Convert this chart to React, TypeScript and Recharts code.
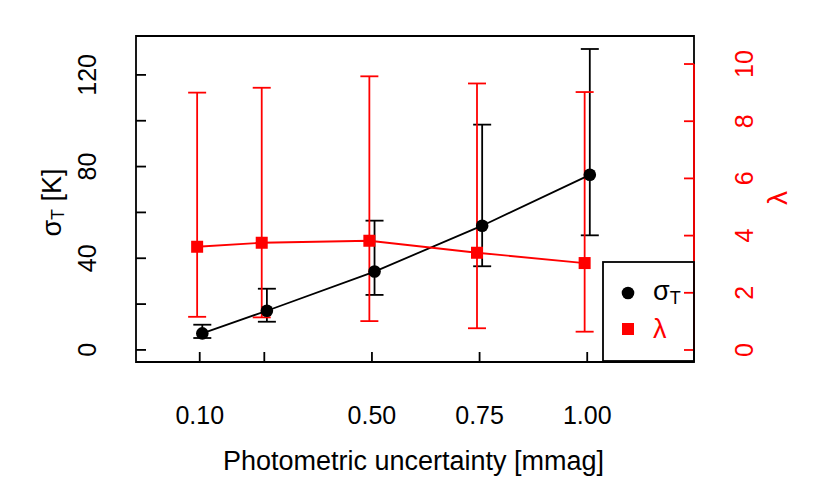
import {
  ComposedChart,
  Scatter,
  ErrorBar,
  XAxis,
  YAxis,
  ReferenceArea,
  ReferenceLine,
  Legend,
  Label,
} from "recharts";

const FONT = "'Liberation Sans', Arial, Helvetica, sans-serif";
const RED = "#ff0000";
const LW = 1.8;

// photometric uncertainty [mmag]
const uncertainty = [0.1, 0.25, 0.5, 0.75, 1.0];

// sigma_T [K] with lower / upper error bar ends
const sigmaT = [7.2, 17.1, 34.2, 54.2, 76.4];
const sigmaLow = [5.2, 12.3, 24.0, 36.5, 50.0];
const sigmaHigh = [11.0, 26.7, 56.4, 98.3, 131.3];

// lambda with lower / upper error bar ends
const lambda = [3.61, 3.75, 3.82, 3.4, 3.04];
const lambdaLow = [1.16, 1.14, 1.01, 0.76, 0.64];
const lambdaHigh = [9.0, 9.17, 9.57, 9.32, 9.02];

const seriesNames = ["σ", "λ"];

const xTicks = [0.1, 0.25, 0.5, 0.75, 1.0];
const xTickLabels = ["0.10", "", "0.50", "0.75", "1.00"];
const sigmaTicks = [0, 20, 40, 60, 80, 100, 120];
const sigmaTickLabels = ["0", "", "40", "", "80", "", "120"];
const lambdaTicks = [0, 2, 4, 6, 8, 10];
const lambdaTickLabels = ["0", "2", "4", "6", "8", "10"];

const xDomain = [-0.048, 1.248];
const sigmaDomain = [-5.27, 136.97];
const lambdaDomain = [-0.42, 10.98];

// the two series are nudged apart a little so the bars don't sit on top of each other
const DODGE = 0.006;

const sigmaData = uncertainty.map((x, i) => ({
  x: x + DODGE,
  y: sigmaT[i],
  err: [sigmaT[i] - sigmaLow[i], sigmaHigh[i] - sigmaT[i]],
}));

const lambdaData = uncertainty.map((x, i) => ({
  x: x - DODGE,
  y: lambda[i],
  err: [lambda[i] - lambdaLow[i], lambdaHigh[i] - lambda[i]],
}));

function XTick({ x, y, payload }: any) {
  const label = xTickLabels[xTicks.indexOf(payload.value)];
  return (
    <g>
      <line x1={x} x2={x} y1={y} y2={y - 10} stroke="#000" strokeWidth={LW} />
      {label ? (
        <text x={x} y={y + 61.5} textAnchor="middle" fontSize={25} fontFamily={FONT} fill="#000">
          {label}
        </text>
      ) : null}
    </g>
  );
}

function LeftTick({ x, y, payload }: any) {
  const label = sigmaTickLabels[sigmaTicks.indexOf(payload.value)];
  const tx = x - 39.5;
  return (
    <g>
      <line x1={x} x2={x + 10} y1={y} y2={y} stroke="#000" strokeWidth={LW} />
      {label ? (
        <text
          x={tx}
          y={y}
          transform={`rotate(-90, ${tx}, ${y})`}
          textAnchor="middle"
          fontSize={25}
          fontFamily={FONT}
          fill="#000"
        >
          {label}
        </text>
      ) : null}
    </g>
  );
}

function RightTick({ x, y, payload }: any) {
  const label = lambdaTickLabels[lambdaTicks.indexOf(payload.value)];
  const tx = x + 59;
  return (
    <g>
      <line x1={x} x2={x - 10} y1={y} y2={y} stroke={RED} strokeWidth={LW} />
      <text
        x={tx}
        y={y}
        transform={`rotate(-90, ${tx}, ${y})`}
        textAnchor="middle"
        fontSize={25}
        fontFamily={FONT}
        fill={RED}
      >
        {label}
      </text>
    </g>
  );
}

function LegendBox() {
  return (
    <svg width={94} height={101} style={{ display: "block", overflow: "visible" }}>
      <rect x={1} y={1} width={91} height={99} fill="none" stroke="#000" strokeWidth={LW} />
      <circle cx={26} cy={32} r={6.3} fill="#000" />
      <text x={51} y={39} fontSize={27} fontFamily={FONT} fill="#000">
        {seriesNames[0]}
        <tspan fontSize={18} dy={4}>
          T
        </tspan>
      </text>
      <rect x={20} y={62} width={12} height={12} fill={RED} />
      <text x={51} y={77} fontSize={27} fontFamily={FONT} fill={RED}>
        {seriesNames[1]}
      </text>
    </svg>
  );
}

export default function App() {
  return (
    <div style={{ position: "absolute", left: 0, top: 0, background: "#fff" }}>
      <ComposedChart
        width={830}
        height={498}
        margin={{ top: 36, right: 76, bottom: 76, left: 76 }}
      >
        <XAxis
          type="number"
          dataKey="x"
          domain={xDomain}
          ticks={xTicks}
          interval={0}
          allowDataOverflow
          axisLine={false}
          tickLine={false}
          tickSize={0}
          tickMargin={0}
          height={60}
          tick={<XTick />}
        >
          <Label
            content={({ viewBox }: any) => (
              <text
                x={viewBox.x + viewBox.width / 2 - 1.5}
                y={viewBox.y + 108}
                textAnchor="middle"
                fontSize={27}
                fontFamily={FONT}
                fill="#000"
              >
                Photometric uncertainty [mmag]
              </text>
            )}
          />
        </XAxis>
        <YAxis
          yAxisId="left"
          type="number"
          domain={sigmaDomain}
          ticks={sigmaTicks}
          interval={0}
          allowDataOverflow
          axisLine={false}
          tickLine={false}
          tickSize={0}
          tickMargin={0}
          width={60}
          tick={<LeftTick />}
        >
          <Label
            content={({ viewBox }: any) => {
              const tx = viewBox.x + viewBox.width - 75;
              const ty = viewBox.y + viewBox.height / 2 + 3.5;
              return (
                <text
                  x={tx}
                  y={ty}
                  transform={`rotate(-90, ${tx}, ${ty})`}
                  textAnchor="middle"
                  fontSize={27}
                  fontFamily={FONT}
                  fill="#000"
                >
                  σ
                  <tspan fontSize={18} dy={3}>
                    T
                  </tspan>
                  <tspan dy={-3}> [K]</tspan>
                </text>
              );
            }}
          />
        </YAxis>
        <YAxis
          yAxisId="right"
          orientation="right"
          type="number"
          domain={lambdaDomain}
          ticks={lambdaTicks}
          interval={0}
          allowDataOverflow
          axisLine={false}
          tickLine={false}
          tickSize={0}
          tickMargin={0}
          width={60}
          tick={<RightTick />}
        >
          <Label
            content={({ viewBox }: any) => {
              const tx = viewBox.x + 92.5;
              const ty = viewBox.y + viewBox.height / 2 - 1;
              return (
                <text
                  x={tx}
                  y={ty}
                  transform={`rotate(-90, ${tx}, ${ty})`}
                  textAnchor="middle"
                  fontSize={28}
                  fontFamily={FONT}
                  fill={RED}
                >
                  λ
                </text>
              );
            }}
          />
        </YAxis>

        <ReferenceArea
          yAxisId="left"
          x1={xDomain[0]}
          x2={xDomain[1]}
          y1={sigmaDomain[0]}
          y2={sigmaDomain[1]}
          fill="none"
          stroke="#000"
          strokeWidth={LW}
          ifOverflow="visible"
        />
        <ReferenceLine
          yAxisId="right"
          segment={[
            { x: xDomain[1], y: lambdaTicks[0] },
            { x: xDomain[1], y: lambdaTicks[lambdaTicks.length - 1] },
          ]}
          stroke={RED}
          strokeWidth={LW}
          ifOverflow="visible"
        />

        <Scatter
          yAxisId="left"
          data={sigmaData}
          dataKey="y"
          fill="#000"
          line={{ stroke: "#000", strokeWidth: LW }}
          lineType="joint"
          isAnimationActive={false}
          shape={(p: any) => <circle cx={p.cx} cy={p.cy} r={6.3} fill="#000" />}
        >
          <ErrorBar dataKey="err" direction="y" width={9} stroke="#000" strokeWidth={LW} />
        </Scatter>
        <Scatter
          yAxisId="right"
          data={lambdaData}
          dataKey="y"
          fill={RED}
          line={{ stroke: RED, strokeWidth: LW }}
          lineType="joint"
          isAnimationActive={false}
          shape={(p: any) => <rect x={p.cx - 6} y={p.cy - 6} width={12} height={12} fill={RED} />}
        >
          <ErrorBar dataKey="err" direction="y" width={9} stroke={RED} strokeWidth={LW} />
        </Scatter>

        <Legend
          layout="vertical"
          align="center"
          verticalAlign="middle"
          wrapperStyle={{ left: 602, top: 261, width: 94, height: 101 }}
          content={() => <LegendBox />}
        />
      </ComposedChart>
    </div>
  );
}
